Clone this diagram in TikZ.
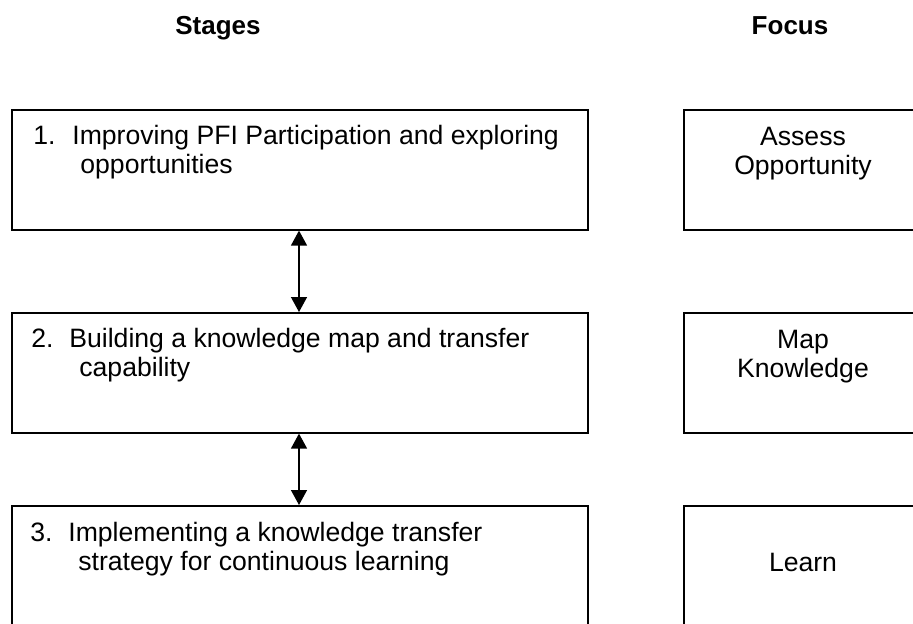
\documentclass[tikz,border=0pt]{standalone}
\usepackage{fontspec}
\setmainfont{Liberation Sans}
\usetikzlibrary{arrows.meta}
\begin{document}
\begin{tikzpicture}[x=0.5pt,y=-0.5pt,
  lbox/.style={draw, line width=0.8pt, rectangle, anchor=north west, inner sep=0pt, minimum width=288pt, minimum height=60pt},
  rbox/.style={draw, line width=0.8pt, rectangle, anchor=north west, inner sep=0pt, minimum width=125pt, minimum height=60pt},
  txt/.style={inner sep=0pt, anchor=base west, font=\fontsize{13.3}{15}\selectfont},
  ctxt/.style={inner sep=0pt, anchor=base, font=\fontsize{13.3}{15}\selectfont},
  head/.style={inner sep=0pt, anchor=base, font=\bfseries\fontsize{13}{15}\selectfont},
  dbl/.style={line width=0.7pt, {Triangle[width=8pt,length=7.5pt]}-{Triangle[width=8pt,length=7.5pt]}}]
\path[use as bounding box] (0,0) rectangle (913,623);
\clip (0,0) rectangle (913,623);
% headers
\node[head] (hs) at (218,34) {Stages};
\node[head] (hf) at (790,34) {Focus};
% stage boxes
\node[lbox] (s1) at (11,109) {};
\node[lbox] (s2) at (11,312) {};
\node[lbox] (s3) at (11,505) {};
% focus boxes
\node[rbox] (f1) at (683,109) {};
\node[rbox] (f2) at (683,312) {};
\node[rbox] (f3) at (683,505) {};
% stage texts
\node[txt] (n1) at (33,144) {1.};
\node[txt] (t1a) at (72,144) {Improving PFI Participation and exploring};
\node[txt] (t1b) at (80,173) {opportunities};
\node[txt] (n2) at (31,347) {2.};
\node[txt] (t2a) at (69,347) {Building a knowledge map and transfer};
\node[txt] (t2b) at (79,376) {capability};
\node[txt] (n3) at (30,541) {3.};
\node[txt] (t3a) at (68,541) {Implementing a knowledge transfer};
\node[txt] (t3b) at (78,570) {strategy for continuous learning};
% focus texts
\node[ctxt] (r1a) at (803,145) {Assess};
\node[ctxt] (r1b) at (803,174) {Opportunity};
\node[ctxt] (r2a) at (803,348) {Map};
\node[ctxt] (r2b) at (803,377) {Knowledge};
\node[ctxt] (r3) at (803,571) {Learn};
% arrows
\coordinate (ax) at (299,0);
\draw[dbl] (s1.south -| ax) -- (s2.north -| ax);
\draw[dbl] (s2.south -| ax) -- (s3.north -| ax);
\end{tikzpicture}
\end{document}
